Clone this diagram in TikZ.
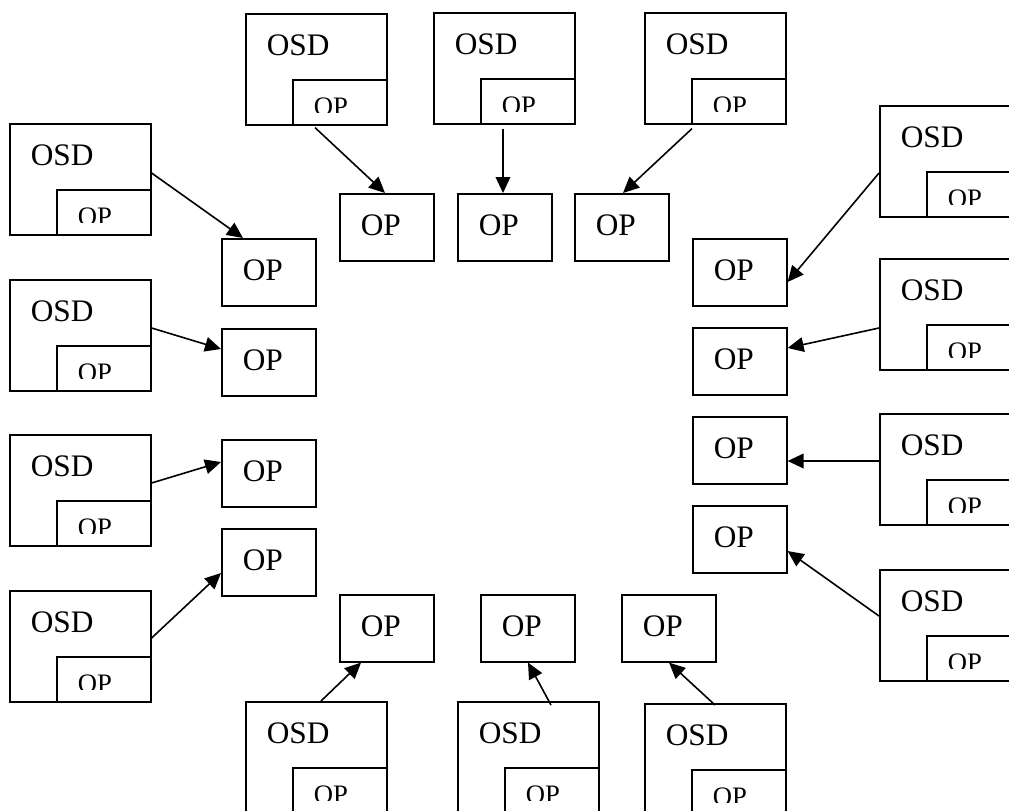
\documentclass[tikz,border=0pt]{standalone}
\usepackage{fontspec}
\setmainfont{Liberation Serif}
\usepackage{tikz}
\usetikzlibrary{arrows.meta}
\usetikzlibrary{calc}
\tikzset{osd box/.style={draw,anchor=north west,inner xsep=15.75pt,inner ysep=0pt,text width=74.25pt,align=left,text height=31.5pt,text depth=51.75pt,font=\fontsize{23.5pt}{28pt}\selectfont},
         op box/.style={draw,anchor=north west,inner xsep=15.75pt,inner ysep=0pt,text width=39pt,align=left,text height=31.5pt,text depth=18.75pt,font=\fontsize{23.5pt}{28pt}\selectfont},
         inner op/.style={draw,anchor=south east,minimum width=70.5pt,minimum height=33.75pt,inner sep=0pt},
         inner text/.style={anchor=base west,inner sep=0pt,font=\fontsize{20pt}{24pt}\selectfont},}

\begin{document}
\begin{tikzpicture}[x=0.75pt, y=-0.75pt, >={Triangle[length=12pt,width=11pt]}, line width=1.2pt]
	\useasboundingbox (0,0) rectangle (1009,810);
	\clip (0,0) rectangle (1009,810);

	% OSD boxes with their OP
	\foreach \n/\x/\y in {t1/245/13, t2/433/12, t3/644/12, l1/9/123, l2/9/279, l3/9/434, l4/9/590, r1/879/105, r2/879/258, r3/879/413, r4/879/569, b1/245/701, b2/457/701, b3/644/703} {
		\node[osd box] (\n) at (\x,\y) {OSD};
		\node[inner op] (\n-in) at (\n.south east) {};
		\begin{scope}
			\clip (\n-in.north west) rectangle ($(\n-in.north east)+(0,33)$);
			\node[inner text] (\n-txt) at ($(\n-in.north west)+(21,36)$) {OP};
		\end{scope}
	}

	% single OP boxes
	\foreach \n/\x/\y in {t1/339/193, t2/457/193, t3/574/193, l1/221/238, l2/221/328, l3/221/439, l4/221/528, r1/692/238, r2/692/327, r3/692/416, r4/692/505, b1/339/594, b2/480/594, b3/621/594}
		\node[op box] (op\n) at (\x,\y) {OP};

	\path[->]
	($(t1.south west)+(70,2)$) edge ($(opt1.north west)+(46,0)$)
	($(t2.south west)+(70,4)$) edge ($(opt2.north west)+(46,0)$)
	($(t3.south west)+(48,4)$) edge ($(opt3.north west)+(49,0)$)
	($(l1.north east)+(0,50)$) edge ($(opl1.north west)+(22,0)$)
	($(l2.north east)+(0,49)$) edge ($(opl2.north west)+(0,21)$)
	($(l3.north east)+(0,49)$) edge ($(opl3.north west)+(0,23)$)
	($(l4.north east)+(0,48)$) edge ($(opl4.north west)+(0,45)$)
	($(r1.north west)+(0,68)$) edge ($(opr1.north east)+(0,44)$)
	($(r2.north west)+(0,70)$) edge ($(opr2.north east)+(0,21)$)
	($(r3.north west)+(0,48)$) edge ($(opr3.north east)+(0,45)$)
	($(r4.north west)+(0,47)$) edge ($(opr4.north east)+(0,46)$)
	($(b1.north west)+(76,0)$) edge ($(opb1.south west)+(22,0)$)
	($(b2.north west)+(94,4)$) edge ($(opb2.south west)+(48,0)$)
	($(b3.north west)+(71,2)$) edge ($(opb3.south west)+(48,0)$);
\end{tikzpicture}
\end{document}
